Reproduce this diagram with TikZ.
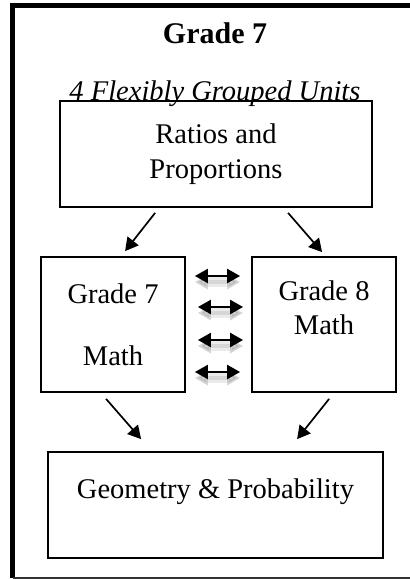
\documentclass[tikz,border=0pt]{standalone}
\usepackage{fontspec}
\setmainfont{Liberation Serif}
\usetikzlibrary{arrows.meta}

\begin{document}
\begin{tikzpicture}[x=1pt,y=-1pt,
  unitbox/.style={draw,line width=1.8pt,align=center,inner sep=0pt},
  flow/.style={line width=1.7pt,-{Triangle[length=13pt,width=14pt]}},
  swap/.style={line width=2.2pt,{Triangle[length=13pt,width=14pt]}-{Triangle[length=13pt,width=14pt]},
    preaction={draw=black!40,opacity=0.2,line width=10pt,transform canvas={yshift=-6pt}},
    preaction={draw=black!40,opacity=0.25,line width=4pt,transform canvas={yshift=-6pt}}}]
\useasboundingbox (0,0) rectangle (410,579);
% outer frame
\draw[line width=5pt] (415,5.5) -- (12.5,5.5) -- (12.5,578);
\draw[line width=1.2pt,black!80] (12.5,578) -- (415,578);
\node[font=\fontsize{30}{34}\selectfont\bfseries] (title) at (215,33) {Grade 7};
% units
\node[unitbox,minimum width=312pt,minimum height=106pt,font=\fontsize{28.5}{35}\selectfont] (ratios) at (216,154) {Ratios and\\Proportions};
\node[anchor=base,font=\fontsize{28.5}{34}\selectfont\itshape] (flex) at (215,100) {4 Flexibly Grouped Units};
\node[unitbox,minimum width=144pt,minimum height=135pt,font=\fontsize{28.5}{31}\selectfont] (g7) at (113,324.5) {Grade 7\\\mbox{}\\Math};
\node[unitbox,minimum width=144pt,minimum height=135pt,font=\fontsize{28.5}{34}\selectfont] (g8) at (324,324.5) {Grade 8\\Math\\\mbox{}};
\node[unitbox,minimum width=335pt,minimum height=106pt,font=\fontsize{28.5}{33}\selectfont] (geo) at (215.5,505) {Geometry \& Probability\\\mbox{}};
% arrows
\draw[flow] ([xshift=96pt,yshift=-5pt]ratios.south west) -- ([xshift=85pt,yshift=5pt]g7.north west);
\draw[flow] ([xshift=229pt,yshift=-5pt]ratios.south west) -- ([xshift=71pt,yshift=4pt]g8.north west);
\draw[flow] ([xshift=66pt,yshift=-6pt]g7.south west) -- ([xshift=94pt,yshift=12pt]geo.north west);
\draw[flow] ([xshift=78pt,yshift=-6pt]g8.south west) -- ([xshift=250pt,yshift=12pt]geo.north west);
\foreach \dy/\dx in {48.5/0,17.5/3,-15.5/3,-47.5/0}
  \draw[swap] ([xshift=9pt+\dx pt,yshift=\dy pt]g7.east) -- ([xshift=-11pt+\dx pt,yshift=\dy pt]g8.west);
\end{tikzpicture}
\end{document}
